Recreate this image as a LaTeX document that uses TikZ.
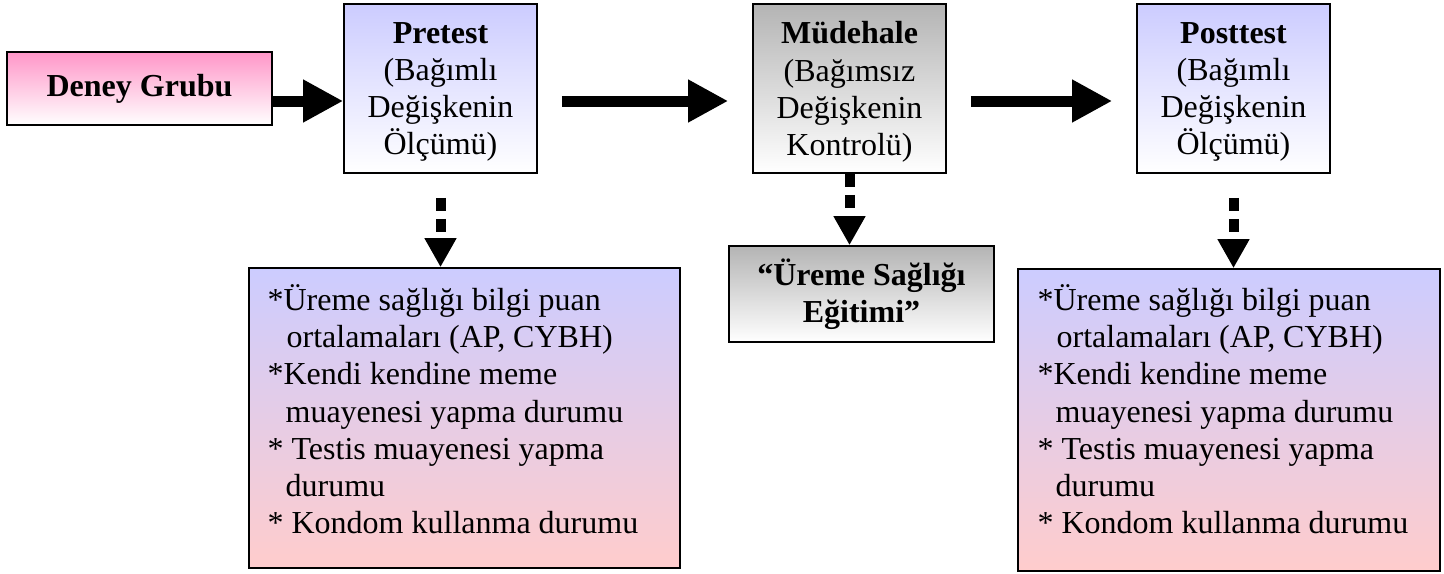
\documentclass[tikz,border=0pt]{standalone}
\usepackage{fontspec}
\setmainfont{Liberation Serif}
\usetikzlibrary{arrows.meta}

\definecolor{lila}{RGB}{204,204,255}
\definecolor{pembe}{RGB}{255,150,200}
\definecolor{acikpembe}{RGB}{255,204,204}
\definecolor{gri}{RGB}{180,180,180}

\tikzset{
  kutu/.style={draw=black, line width=0.8pt, inner sep=0pt, align=center},
  pembekutu/.style={kutu, top color=pembe, bottom color=white},
  lilakutu/.style={kutu, top color=lila, bottom color=white, text depth=-1.5pt},
  grikutu/.style={kutu, top color=gri, bottom color=white},
  listekutu/.style={kutu, top color=lila, bottom color=acikpembe},
  liste/.style={inner sep=0pt, align=left, anchor=north west},
  kalinok/.style={line width=5.5pt, -{Triangle[length=20pt, width=20pt]}},
  noktaok/.style={line width=5pt, dash pattern=on 6.5pt off 4pt,
    -{Triangle[length=14.5pt, width=15pt]}}
}

\begin{document}
\begin{tikzpicture}[x=0.5pt, y=-0.5pt, font=\fontsize{16}{18.6}\selectfont]

  \useasboundingbox (0,0) rectangle (1444,573);

  %% ust satir
  \node[pembekutu, minimum width=132.5pt, minimum height=36.5pt] (deney) at (139.5, 88.5)
    {\textbf{Deney Grubu}};
  \node[lilakutu, minimum width=96.5pt, minimum height=84.5pt] (pretest) at (440.5, 88.5)
    {\textbf{Pretest}\\(Bağımlı\\Değişkenin\\Ölçümü)};
  \node[grikutu, text depth=-1.5pt, minimum width=96.5pt, minimum height=84.5pt] (mudahale) at (849.5, 88.5)
    {\textbf{Müdehale}\\(Bağımsız\\Değişkenin\\Kontrolü)};
  \node[lilakutu, minimum width=96.5pt, minimum height=84.5pt] (posttest) at (1233.5, 88.5)
    {\textbf{Posttest}\\(Bağımlı\\Değişkenin\\Ölçümü)};

  %% alt satir
  \node[grikutu, minimum width=132.5pt, minimum height=48pt] (egitim) at (861.5, 294)
    {\textbf{“Üreme Sağlığı}\\\textbf{Eğitimi”}};
  \node[listekutu, minimum width=215.5pt, minimum height=150pt] (prelist) at (464.5, 418) {};
  \node[listekutu, minimum width=211pt, minimum height=151pt] (postlist) at (1229, 420) {};

  \node[liste] (pretext) at ([shift={(19,17)}]prelist.north west)
    {*Üreme sağlığı bilgi puan\\
     \hspace*{9.5pt}ortalamaları (AP, CYBH)\\
     *Kendi kendine meme\\
     \hspace*{9pt}muayenesi yapma durumu\\
     * Testis muayenesi yapma\\
     \hspace*{9pt}durumu\\
     * Kondom kullanma durumu};
  \node[liste] (posttext) at ([shift={(20,16)}]postlist.north west)
    {*Üreme sağlığı bilgi puan\\
     \hspace*{9.5pt}ortalamaları (AP, CYBH)\\
     *Kendi kendine meme\\
     \hspace*{9pt}muayenesi yapma durumu\\
     * Testis muayenesi yapma\\
     \hspace*{9pt}durumu\\
     * Kondom kullanma durumu};

  %% oklar
  \draw[kalinok] ([yshift=-6.25pt]deney.east) -- ([yshift=-6.25pt]pretest.west);
  \draw[kalinok, shorten <=12pt, shorten >=12pt]
    ([yshift=-6.25pt]pretest.east) -- ([yshift=-6.25pt]mudahale.west);
  \draw[kalinok, shorten <=12pt, shorten >=12pt]
    ([yshift=-6.25pt]mudahale.east) -- ([yshift=-6.25pt]posttest.west);

  \draw[noktaok, shorten <=12pt] (pretest.south) -- (pretest.south |- prelist.north);
  \draw[noktaok] (mudahale.south) -- (mudahale.south |- egitim.north);
  \draw[noktaok, shorten <=12pt] (posttest.south) -- (posttest.south |- postlist.north);

\end{tikzpicture}
\end{document}
